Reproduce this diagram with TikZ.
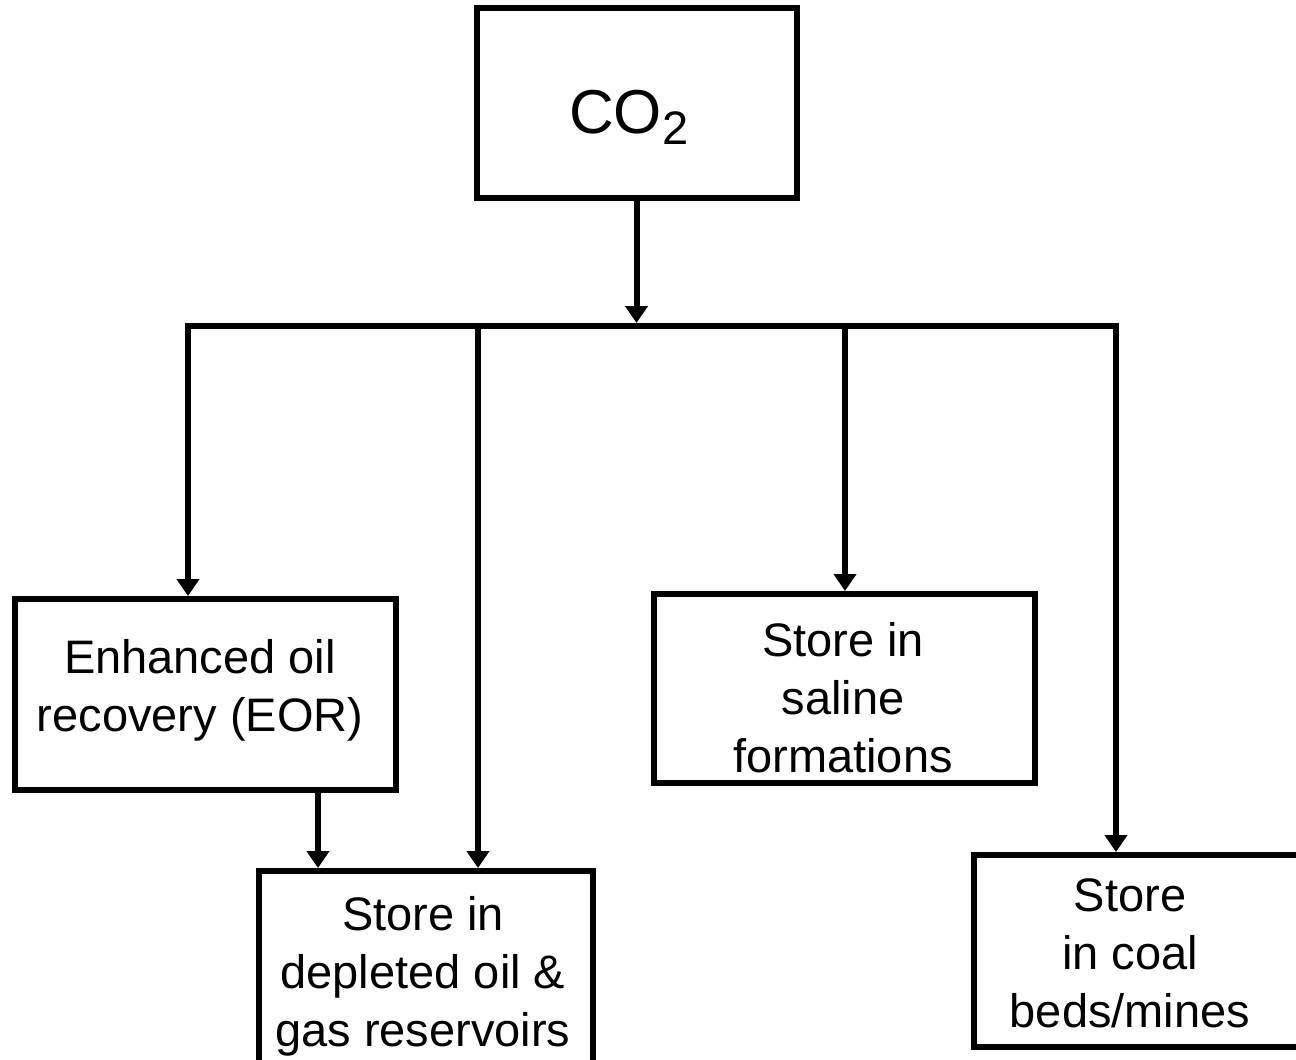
\documentclass[tikz,border=0pt]{standalone}
\usepackage{fontspec}
\setmainfont{Liberation Sans}
\usetikzlibrary{arrows.meta}
\begin{document}
\begin{tikzpicture}[x=1pt,y=-1pt,
  box/.style={draw=black,line width=6pt,rectangle,inner sep=0pt,fill=none},
  txt/.style={align=center,inner sep=0pt,font=\fontsize{47}{58}\selectfont},
  conn/.style={line width=6pt,-{Triangle[length=17pt,width=22pt]}},
  barline/.style={line width=6pt,line cap=rect}]
\useasboundingbox[fill=white] (0,0) rectangle (1296,1060);
% boxes
\node[box,minimum width=320pt,minimum height=190pt] (co2) at (636.5,103) {};
\node[anchor=base west,inner sep=0pt,font=\fontsize{62}{62}\selectfont] (co2t) at (569,133) {CO\raisebox{-11pt}{\fontsize{47}{47}\selectfont 2}};
\node[box,minimum width=381pt,minimum height=191pt] (eor) at (205.5,694.5) {};
\node[txt] (eort) at (200,690) {Enhanced oil\\recovery (EOR)};
\node[box,minimum width=381pt,minimum height=189pt] (sal) at (844.5,688.5) {};
\node[txt] (salt) at (843,698) {Store in\\saline\\formations};
\node[box,minimum width=334pt,minimum height=200pt] (dep) at (426,971) {};
\node[txt] (dept) at (423,976) {Store in\\depleted oil \&\\gas reservoirs};
\node[box,minimum width=330pt,minimum height=191.5pt] (coal) at (1138.75,950.75) {};
\node[txt] (coalt) at (1130,953) {Store\\in coal\\beds/mines};
% bar coordinates
\coordinate (b1) at (188,326);
\coordinate (b2) at (478,326);
\coordinate (bc) at (636.5,323);
\coordinate (b3) at (845,326);
\coordinate (b4) at (1116,326);
\draw[barline] (b1) -- (b4);
\draw[conn] (co2.south) -- (bc);
\draw[conn] (b1) -- (b1 |- eor.north);
\draw[conn] (b2) -- (b2 |- dep.north);
\draw[conn] (b3) -- (b3 |- sal.north);
\draw[conn] (b4) -- (b4 |- coal.north);
\coordinate (e1) at (318,0);
\draw[conn] (e1 |- eor.south) -- (e1 |- dep.north);
\end{tikzpicture}
\end{document}
